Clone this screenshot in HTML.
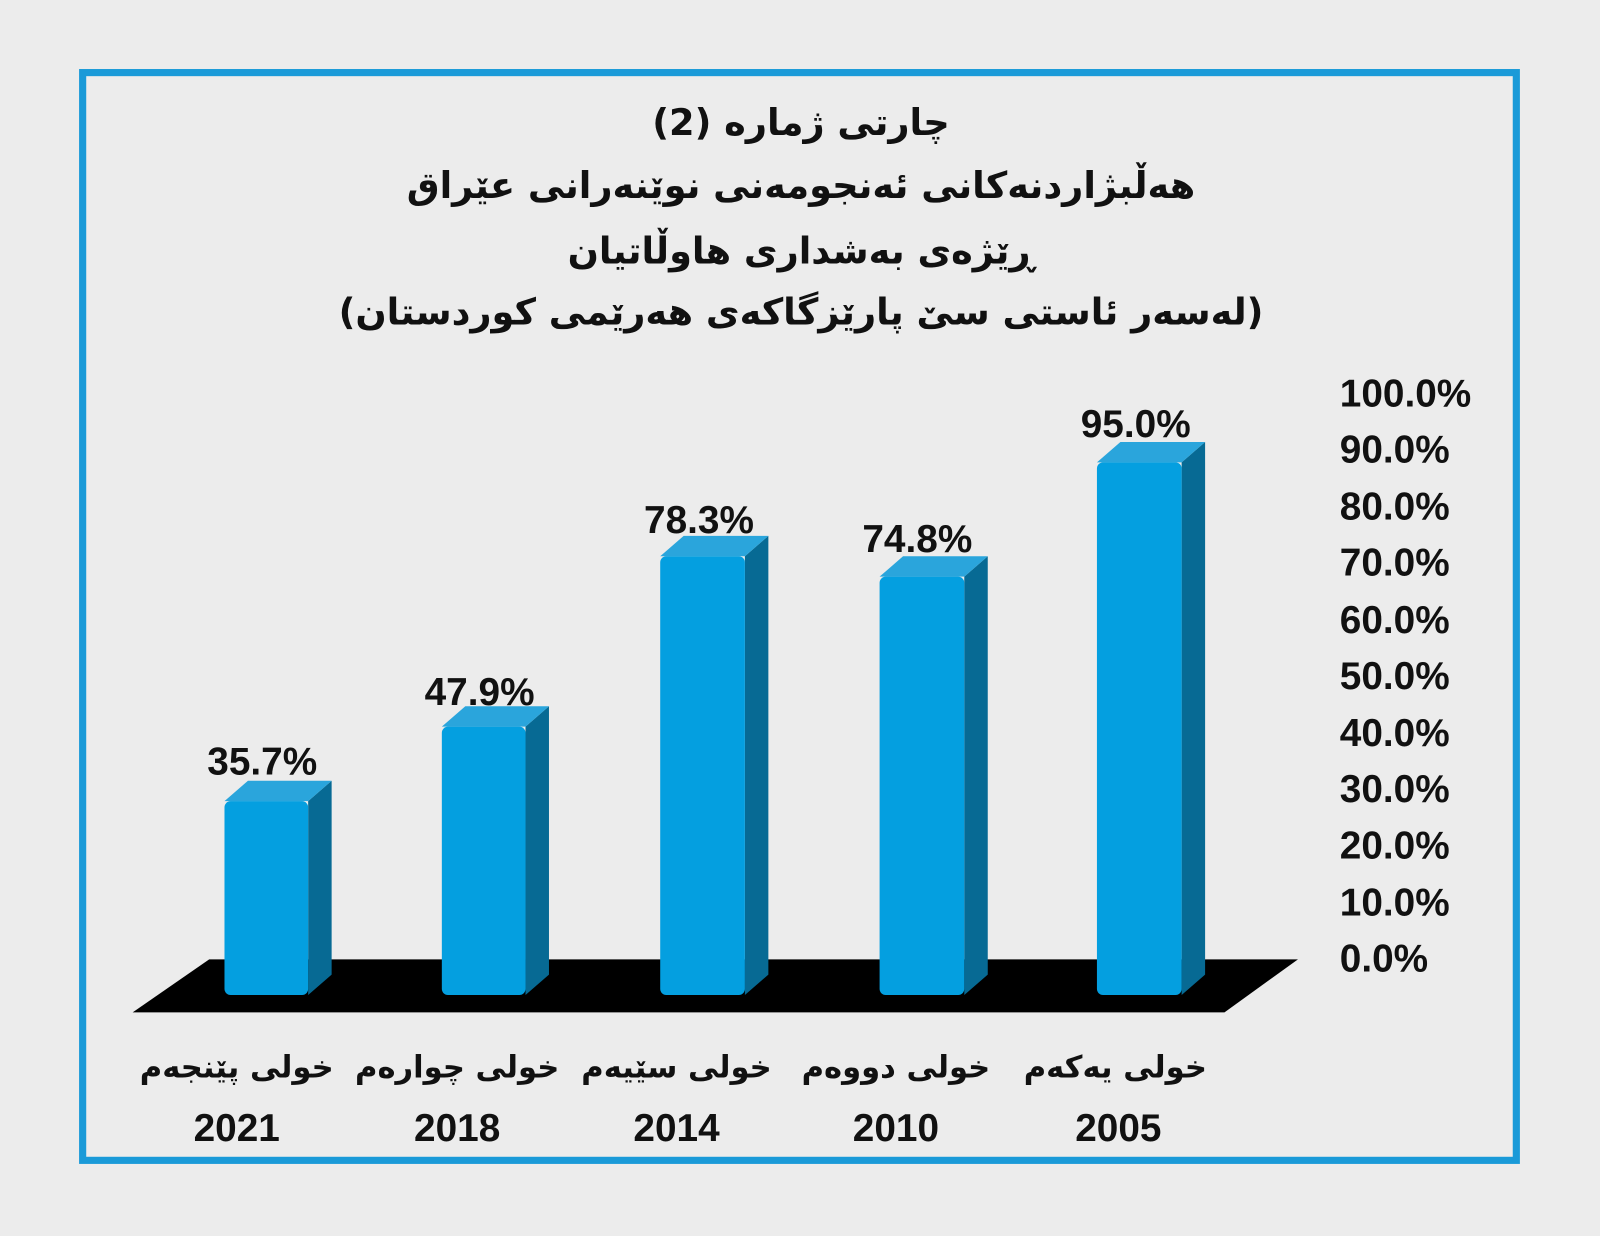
<!DOCTYPE html>
<html><head><meta charset="utf-8"><style>
html,body{margin:0;padding:0;background:#ececec;}
svg{display:block;}
text{font-family:"DejaVu Sans","Liberation Sans",sans-serif;font-weight:bold;fill:#111;}
.n{font-family:"Liberation Sans","DejaVu Sans",sans-serif;}
</style></head><body>
<svg width="1600" height="1236" viewBox="0 0 1568 1211" xmlns="http://www.w3.org/2000/svg">
<rect x="0" y="0" width="1568" height="1211" fill="#ececec"/>
<rect x="81" y="71" width="1405" height="1066" fill="#ececec" stroke="#1a9ad8" stroke-width="7"/>
<g text-anchor="middle" font-size="36">
<text x="785" y="132" direction="rtl">چارتی ژمارە (2)</text>
<text x="785" y="194" direction="rtl">هەڵبژاردنەکانی ئەنجومەنی نوێنەرانی عێراق</text>
<text x="785" y="258" direction="rtl">ڕێژەی بەشداری هاوڵاتیان</text>
<text x="785" y="318" direction="rtl">(لەسەر ئاستی سێ پارێزگاکەی هەرێمی کوردستان)</text>
</g>
<g font-size="38">
<text class="n" x="1313" y="398">100.0%</text>
<text class="n" x="1313" y="453">90.0%</text>
<text class="n" x="1313" y="509">80.0%</text>
<text class="n" x="1313" y="564">70.0%</text>
<text class="n" x="1313" y="620">60.0%</text>
<text class="n" x="1313" y="675">50.0%</text>
<text class="n" x="1313" y="731">40.0%</text>
<text class="n" x="1313" y="786">30.0%</text>
<text class="n" x="1313" y="841">20.0%</text>
<text class="n" x="1313" y="897">10.0%</text>
<text class="n" x="1313" y="952">0.0%</text>
</g>
<polygon points="130,992 1200,992 1272,940 205,940" fill="#000"/>
<g>
<polygon points="302,785 325,765 325,955 302,975" fill="#076a94"/>
<polygon points="220,785 302,785 325,765 243,765" fill="#2aa5dc"/>
<rect x="220" y="785" width="82" height="190" rx="6" fill="#049fe0"/>

<polygon points="515,712 538,692 538,955 515,975" fill="#076a94"/>
<polygon points="433,712 515,712 538,692 456,692" fill="#2aa5dc"/>
<rect x="433" y="712" width="82" height="263" rx="6" fill="#049fe0"/>

<polygon points="730,545 753,525 753,955 730,975" fill="#076a94"/>
<polygon points="647,545 730,545 753,525 670,525" fill="#2aa5dc"/>
<rect x="647" y="545" width="83" height="430" rx="6" fill="#049fe0"/>

<polygon points="945,565 968,545 968,955 945,975" fill="#076a94"/>
<polygon points="862,565 945,565 968,545 885,545" fill="#2aa5dc"/>
<rect x="862" y="565" width="83" height="410" rx="6" fill="#049fe0"/>

<polygon points="1158,453 1181,433 1181,955 1158,975" fill="#076a94"/>
<polygon points="1075,453 1158,453 1181,433 1098,433" fill="#2aa5dc"/>
<rect x="1075" y="453" width="83" height="522" rx="6" fill="#049fe0"/>
</g>
<g text-anchor="middle" font-size="38">
<text class="n" x="257" y="759">35.7%</text>
<text class="n" x="470" y="691">47.9%</text>
<text class="n" x="685" y="522">78.3%</text>
<text class="n" x="899" y="541">74.8%</text>
<text class="n" x="1113" y="428">95.0%</text>
</g>
<g text-anchor="middle" font-size="30">
<text x="232" y="1056" direction="rtl">خولی پێنجەم</text>
<text x="448" y="1056" direction="rtl">خولی چوارەم</text>
<text x="663" y="1056" direction="rtl">خولی سێیەم</text>
<text x="878" y="1056" direction="rtl">خولی دووەم</text>
<text x="1093" y="1056" direction="rtl">خولی یەکەم</text>
</g>
<g text-anchor="middle" font-size="38">
<text class="n" x="232" y="1118">2021</text>
<text class="n" x="448" y="1118">2018</text>
<text class="n" x="663" y="1118">2014</text>
<text class="n" x="878" y="1118">2010</text>
<text class="n" x="1096" y="1118">2005</text>
</g>
</svg>
</body></html>
